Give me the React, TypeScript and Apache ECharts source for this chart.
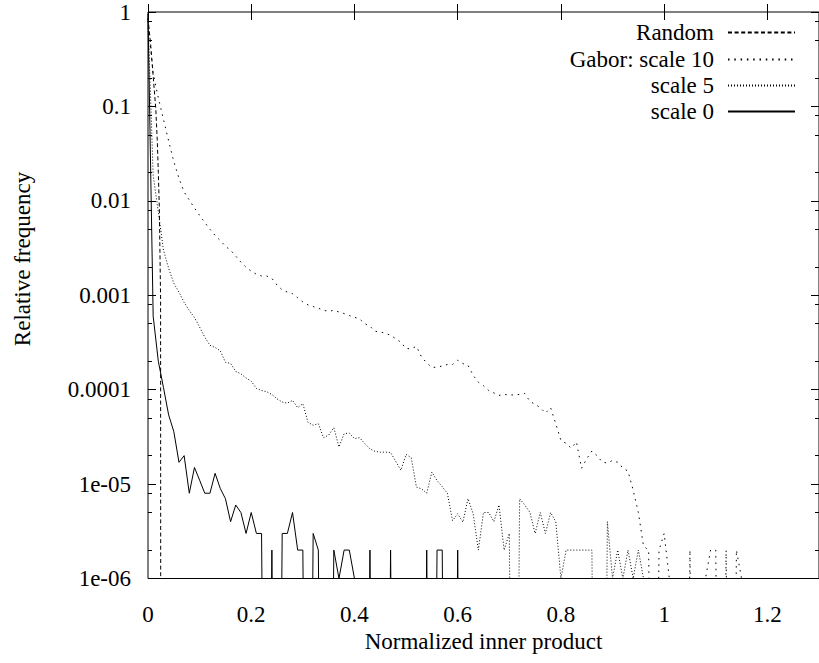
import React, { useEffect, useRef } from 'react';
import * as echarts from 'echarts';

// bin positions (normalized inner product)
const binX = [
  0.0, 0.01, 0.02, 0.03, 0.04, 0.05, 0.06, 0.07, 0.08, 0.09,
  0.1, 0.11, 0.12, 0.13, 0.14, 0.15, 0.16, 0.17, 0.18, 0.19,
  0.2, 0.21, 0.22, 0.23, 0.24, 0.25, 0.26, 0.27, 0.28, 0.29,
  0.3, 0.31, 0.32, 0.33, 0.34, 0.35, 0.36, 0.37, 0.38, 0.39,
  0.4, 0.41, 0.42, 0.43, 0.44, 0.45, 0.46, 0.47, 0.48, 0.49,
  0.5, 0.51, 0.52, 0.53, 0.54, 0.55, 0.56, 0.57, 0.58, 0.59,
  0.6, 0.61, 0.62, 0.63, 0.64, 0.65, 0.66, 0.67, 0.68, 0.69,
  0.7, 0.71, 0.72, 0.73, 0.74, 0.75, 0.76, 0.77, 0.78, 0.79,
  0.8, 0.81, 0.82, 0.83, 0.84, 0.85, 0.86, 0.87, 0.88, 0.89,
  0.9, 0.91, 0.92, 0.93, 0.94, 0.95, 0.96, 0.97, 0.98, 0.99,
  1.0, 1.01, 1.02, 1.03, 1.04, 1.05, 1.06, 1.07, 1.08, 1.09,
  1.1, 1.11, 1.12, 1.13, 1.14, 1.15, 1.16,
];

// Random vectors (finer sampling near zero)
const randomX = [0, 0.005, 0.01, 0.015, 0.018, 0.02, 0.022, 0.0244, 0.025];
const randomY = [0.86, 0.46, 0.21, 0.096, 0.043, 0.02, 0.0083, 0.0009, 0];

// Gabor scale 10
const gabor10 = [
  0.8, 0.225, 0.123, 0.073, 0.043, 0.026, 0.0174, 0.0124, 0.0102, 0.0084,
  0.007, 0.0059, 0.005, 0.0043, 0.0038, 0.0033, 0.003, 0.0026, 0.00224, 0.00198,
  0.0018, 0.00167, 0.0016, 0.0016, 0.00151, 0.00128, 0.00114, 0.00108, 0.00104, 0.00094,
  0.00085, 0.00079, 0.00076, 0.00073, 0.00069, 0.00068, 0.00069, 0.000665, 0.00064, 0.00061,
  0.000585, 0.00056, 0.0005, 0.00047, 0.000415, 0.00041, 0.000395, 0.000377, 0.000346, 0.000318,
  0.000272, 0.000272, 0.000288, 0.000222, 0.000192, 0.000172, 0.000173, 0.000178, 0.000185, 0.000185,
  0.000205, 0.000189, 0.000181, 0.000142, 0.00012, 0.00011, 9.8e-5, 9.25e-5, 8.7e-5, 8.9e-5,
  8.8e-5, 8.8e-5, 8.9e-5, 9.1e-5, 7.5e-5, 7.0e-5, 6.45e-5, 5.65e-5, 6.45e-5, 4.36e-5,
  2.9e-5, 2.7e-5, 2.4e-5, 2.8e-5, 1.47e-5, 1.86e-5, 2.24e-5, 2.0e-5, 1.71e-5, 1.67e-5,
  1.78e-5, 1.7e-5, 1.48e-5, 1.37e-5, 8.6e-6, 5e-6, 2.2e-6, 2e-6, 0, 2e-6,
  3e-6, 1e-6, 0, 0, 0, 2e-6, 0, 0, 1e-6, 2e-6,
  2e-6, 0, 2e-6, 0, 2e-6, 1e-6, 0,
];

// Gabor scale 5
const gabor5 = [
  0.85, 0.0187, 0.0076, 0.003, 0.00193, 0.00134, 0.00108, 0.00084, 0.00069, 0.00058,
  0.00046, 0.00036, 0.000295, 0.00028, 0.000258, 0.000195, 0.00019, 0.000156, 0.000147, 0.000133,
  0.000123, 0.000103, 9.8e-5, 9.5e-5, 8.9e-5, 8.0e-5, 7.4e-5, 7.2e-5, 7.7e-5, 6.45e-5,
  7.1e-5, 4.5e-5, 4.2e-5, 4.36e-5, 3.1e-5, 3.3e-5, 3.96e-5, 2.47e-5, 3.42e-5, 3.47e-5,
  3.03e-5, 3.1e-5, 2.68e-5, 2.36e-5, 2.22e-5, 2.18e-5, 2.18e-5, 2.16e-5, 1.74e-5, 1.4e-5,
  2.06e-5, 1.9e-5, 9.3e-6, 8.9e-6, 8.0e-6, 1.34e-5, 1.09e-5, 9.4e-6, 8.0e-6, 4.1e-6,
  4.85e-6, 3.95e-6, 7.0e-6, 4.85e-6, 2e-6, 5e-6, 5e-6, 4e-6, 6e-6, 2e-6,
  3e-6, 0, 7e-6, 6e-6, 5e-6, 3e-6, 5e-6, 3e-6, 5e-6, 4e-6,
  1e-6, 2e-6, 2e-6, 2e-6, 2e-6, 2e-6, 2e-6, 0, 0, 4e-6,
  1e-6, 2e-6, 1e-6, 2e-6, 1e-6, 2e-6, 1e-6, 0,
];

// Gabor scale 0
const gabor0 = [
  0.95, 6e-4, 2e-4, 1.05e-4, 5.4e-5, 3.6e-5, 1.7e-5, 2e-5, 8e-6, 1.5e-5,
  1.1e-5, 8e-6, 8e-6, 1.3e-5, 9e-6, 7e-6, 4e-6, 6e-6, 5e-6, 3e-6,
  5e-6, 3e-6, 3e-6, 0, 2e-6, 0, 3e-6, 3e-6, 5e-6, 2e-6,
  2e-6, 0, 3e-6, 2e-6, 0, 0, 2e-6, 1e-6, 2e-6, 2e-6,
  1e-6, 0, 0, 2e-6, 0, 0, 0, 2e-6, 0, 0,
  0, 0, 0, 0, 2e-6, 0, 2e-6, 2e-6, 0, 0,
  2e-6, 0,
];

const seriesNames = ['Random', 'Gabor: scale 10', 'scale 5', 'scale 0'];
const yTickLabels = ['1e-06', '1e-05', '0.0001', '0.001', '0.01', '0.1', '1'];
const minorMantissas = [2, 5, 8];
const decades = [-6, -5, -4, -3, -2, -1];

const FONT = 'Liberation Serif';
const FS = 23;
// zero counts are undefined on a log scale: drawn as a drop off the bottom of the plot
const ZERO_FLOOR = 1e-12;

const pairs = (xs: number[], ys: number[]) =>
  ys.map((v, i) => [xs[i], v === 0 ? ZERO_FLOOR : v]);

export default function App() {
  const ref = useRef<HTMLDivElement>(null);
  useEffect(() => {
    const chart = echarts.init(ref.current!, null, { renderer: 'svg' });
    const minorTicks: number[] = [];
    decades.forEach((d) => minorMantissas.forEach((m) => minorTicks.push(d + Math.log10(m))));

    const tickCommon = { inside: true, lineStyle: { color: '#000', width: 1 } };
    const xBase = {
      type: 'value',
      min: 0,
      max: 1.3,
      interval: 0.2,
      splitLine: { show: false },
      axisLine: { show: false },
    };
    const lineStyles: any[] = [
      { type: [4, 2.6] },
      { type: [1.5, 4.8] },
      { type: [1, 2] },
      { type: 'solid' },
    ];
    const datas = [
      pairs(randomX, randomY),
      pairs(binX, gabor10),
      pairs(binX, gabor5),
      pairs(binX, gabor0),
    ];
    const legendCenters = [33, 60, 86, 112];

    chart.setOption({
      animation: false,
      backgroundColor: '#fff',
      grid: {
        left: 148,
        top: 12,
        width: 677,
        height: 566.5,
        show: true,
        borderColor: '#000',
        borderWidth: 1,
        backgroundColor: 'transparent',
      },
      xAxis: [
        {
          ...xBase,
          position: 'bottom',
          axisTick: { ...tickCommon, length: 8 },
          axisLabel: {
            margin: 24,
            color: '#000',
            fontFamily: FONT,
            fontSize: FS,
            showMaxLabel: false,
          },
          name: 'Normalized inner product',
          nameLocation: 'middle',
          nameGap: 51,
          nameTextStyle: { color: '#000', fontFamily: FONT, fontSize: FS },
        },
        {
          ...xBase,
          position: 'top',
          axisTick: { ...tickCommon, length: 8 },
          axisLabel: { show: false },
        },
      ],
      yAxis: [
        {
          type: 'log',
          logBase: 10,
          min: 1e-6,
          max: 1,
          position: 'left',
          splitLine: { show: false },
          axisLine: { show: false },
          axisTick: { ...tickCommon, length: 8 },
          axisLabel: {
            margin: 17,
            color: '#000',
            fontFamily: FONT,
            fontSize: FS,
            formatter: (v: number) => yTickLabels[Math.round(Math.log10(v)) + 6],
          },
        },
        {
          type: 'value',
          min: -6,
          max: 0,
          position: 'left',
          splitLine: { show: false },
          axisLine: { show: false },
          axisLabel: { show: false },
          axisTick: { ...tickCommon, length: 4, customValues: minorTicks },
        },
        {
          type: 'log',
          logBase: 10,
          min: 1e-6,
          max: 1,
          position: 'right',
          splitLine: { show: false },
          axisLine: { show: false },
          axisLabel: { show: false },
          axisTick: { ...tickCommon, length: 8 },
        },
        {
          type: 'value',
          min: -6,
          max: 0,
          position: 'right',
          splitLine: { show: false },
          axisLine: { show: false },
          axisLabel: { show: false },
          axisTick: { ...tickCommon, length: 4, customValues: minorTicks },
        },
      ],
      legend: seriesNames.map((name, i) => ({
        data: [name],
        right: 23,
        top: legendCenters[i] - 12,
        orient: 'horizontal',
        align: 'right',
        itemWidth: 67,
        itemHeight: 10,
        padding: 0,
        selectedMode: false,
        itemStyle: { color: 'rgba(0,0,0,0)', borderWidth: 0, opacity: 0 },
        textStyle: {
          color: '#000',
          fontFamily: FONT,
          fontSize: FS,
          padding: [0, 9, 0, 0],
        },
      })),
      graphic: [
        {
          type: 'text',
          x: 22,
          y: 259,
          rotation: Math.PI / 2,
          style: {
            text: 'Relative frequency',
            fill: '#000',
            fontFamily: FONT,
            fontSize: FS,
            align: 'center',
            verticalAlign: 'middle',
          },
        },
      ],
      series: seriesNames.map((name, i) => ({
        name,
        type: 'line',
        xAxisIndex: 0,
        yAxisIndex: 0,
        symbol: 'none',
        showSymbol: false,
        clip: true,
        data: datas[i],
        lineStyle: { color: '#000', width: 1, ...lineStyles[i] },
        itemStyle: { color: '#000' },
      })),
    });
    return () => chart.dispose();
  }, []);
  return (
    <div
      ref={ref}
      style={{ position: 'absolute', left: 0, top: 0, width: 819, height: 663, background: '#fff' }}
    />
  );
}
